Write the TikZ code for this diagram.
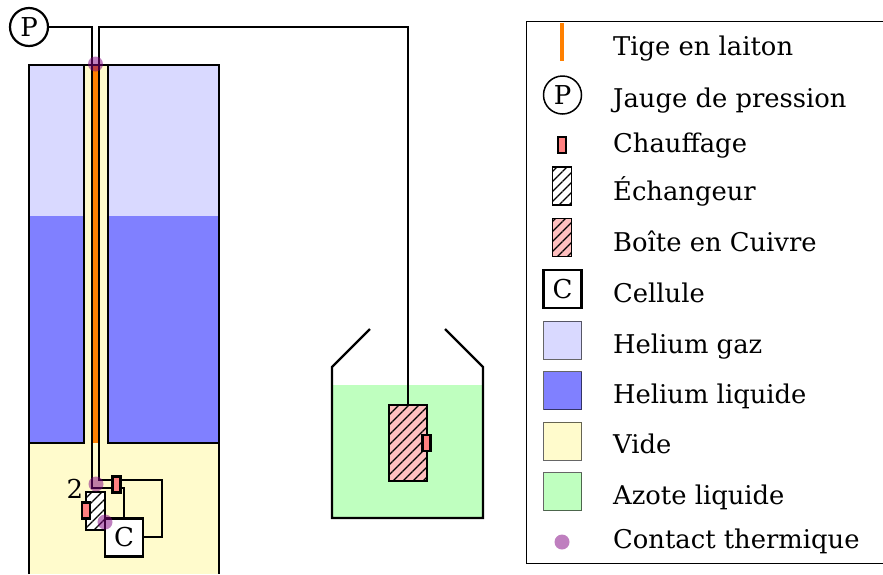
\documentclass[tikz,border=0pt]{standalone}
\usepackage{fontspec}
\setmainfont{DejaVu Serif}
\usetikzlibrary{patterns.meta}
\definecolor{gaz}{HTML}{D9D9FF}
\definecolor{liq}{HTML}{8080FF}
\definecolor{vide}{HTML}{FFFBCC}
\definecolor{azote}{HTML}{BFFFBF}
\definecolor{laiton}{HTML}{FF8000}
\definecolor{chauf}{HTML}{FF8080}
\definecolor{cuivre}{HTML}{FFBFBF}
\definecolor{contact}{HTML}{800080}
\tikzset{
  wire/.style={draw=black,line width=2.2pt,line join=miter},
  box/.style={draw=black,line width=2.2pt,inner sep=0pt,outer sep=0pt,rectangle},
  heater/.style={box,fill=chauf,minimum width=8pt,minimum height=16pt},
  exch/.style={box,minimum width=19pt,minimum height=38pt,preaction={fill=white},
    pattern={Lines[angle=45,distance=7.0711pt,line width=1.2pt]},pattern color=black},
  copper/.style={box,preaction={fill=cuivre},
    pattern={Lines[angle=45,distance=7.0711pt,line width=1.2pt]},pattern color=black},
  cell/.style={box,fill=white,minimum width=38pt,minimum height=38pt,font=\fontsize{26}{26}\selectfont},
  gauge/.style={draw=black,line width=2.2pt,circle,fill=white,inner sep=0pt,outer sep=0pt,minimum size=38pt,font=\fontsize{26}{26}\selectfont},
  dot/.style={circle,fill=contact,fill opacity=.5,draw=none,inner sep=0pt,minimum size=15pt},
  swatch/.style={draw=black,draw opacity=.6,line width=1pt,inner sep=0pt,outer sep=0pt,minimum width=38pt,minimum height=38pt},
  lab/.style={anchor=base west,inner sep=0pt,font=\fontsize{25.8}{26}\selectfont},
}
\begin{document}
\begin{tikzpicture}[x=1pt,y=-1pt]
\useasboundingbox (0,0) rectangle (883,574);
\clip (0,0) rectangle (883,574);
% fills
\fill[gaz] (29,65) rectangle (219,216);
\fill[liq] (29,216) rectangle (219,443);
\fill[vide] (29,443) rectangle (219,574);
\fill[vide] (84,65) rectangle (108,443);
\fill[azote] (332,385) rectangle (483,518);
% brass rod
\fill[laiton] (92,65) rectangle (99,443);
% cryostat walls
\coordinate (wallTL) at (29,65);
\coordinate (wallTR) at (219,65);
\coordinate (wallBL) at (29,574);
\coordinate (wallBR) at (219,574);
\coordinate (tubeL) at (84,443);
\coordinate (tubeR) at (108,443);
\draw[wire] (wallBL) -- (wallTL) -- (wallTR) -- (wallBR);
\draw[wire] (29,443) -- (tubeL) -- (84,65);
\draw[wire] (219,443) -- (tubeR) -- (108,65);
% bottom assembly nodes
\node[gauge] (P) at (29,27) {P};
\node[exch] (ex) at (95.5,511) {};
\node[cell] (C) at (124,537.5) {C};
\node[heater] (h1) at (116.5,484.5) {};
\node[heater] (h2) at (86,510.5) {};
\node[anchor=center,inner sep=0pt,font=\fontsize{26}{26}\selectfont] (two) at (75,489) {2};
% copper box and dewar
\node[copper,minimum width=38pt,minimum height=76pt] (cu) at (408,443) {};
\node[heater] (h3) at (426.5,443) {};
\coordinate (dA) at (370,329);
\coordinate (dB) at (445,329);
\draw[wire] (dA) -- (332,367) -- (332,518) -- (483,518) -- (483,367) -- (dB);
% capillaries
\draw[wire] (P.east) -- (92,27) -- (92,488) -- (h1.west |- 0,488);
\draw[wire] (h1.west |- 0,480) -- (99,480) -- (99,27) -- (408,27) -- (cu.north);
\draw[wire] (h1.east |- 0,480) -- (162,480) -- (162,537) -- (C.east |- 0,537);
\draw[wire] (h1.east |- 0,488) -- (124,488) -- (C.north);
% contacts
\node[dot] (c1) at (95.5,64) {};
\node[dot] (c2) at (96,484) {};
\node[dot] (c3) at (105,522) {};
% legend
\coordinate (lgTR) at (883,21);
\coordinate (lgTL) at (526,21);
\coordinate (lgBL) at (526,563);
\coordinate (lgBR) at (883,563);
\draw[draw=black,line width=1pt] (lgTR) -- (lgTL) -- (lgBL) -- (lgBR);
\draw[laiton,line width=4pt] (562,23) -- (562,61);
\node[gauge,fill=none,line width=1.5pt] (lP) at (562.5,95) {P};
\node[heater,line width=1.5pt] (lh) at (562,145) {};
\node[exch,minimum width=19pt,line width=1.5pt] (lex) at (562,186) {};
\node[copper,minimum width=19pt,minimum height=38pt,line width=1.5pt] (lcu) at (562,237.5) {};
\node[cell] (lC) at (562.5,289) {C};
\node[swatch,fill=gaz] (s1) at (562.5,340) {};
\node[swatch,fill=liq] (s2) at (562.5,390.5) {};
\node[swatch,fill=vide] (s3) at (562.5,441) {};
\node[swatch,fill=azote] (s4) at (562.5,491.5) {};
\node[dot] (ld) at (562,542) {};
\node[lab] (t1) at (613,55) {Tige en laiton};
\node[lab] (t2) at (613,107) {Jauge de pression};
\node[lab] (t3) at (613,152) {Chauffage};
\node[lab] (t4) at (613,200) {Échangeur};
\node[lab] (t5) at (613,251) {Boîte en Cuivre};
\node[lab] (t6) at (613,302) {Cellule};
\node[lab] (t7) at (613,353) {Helium gaz};
\node[lab] (t8) at (613,403) {Helium liquide};
\node[lab] (t9) at (613,453) {Vide};
\node[lab] (t10) at (613,504) {Azote liquide};
\node[lab] (t11) at (613,548) {Contact thermique};
\end{tikzpicture}
\end{document}
